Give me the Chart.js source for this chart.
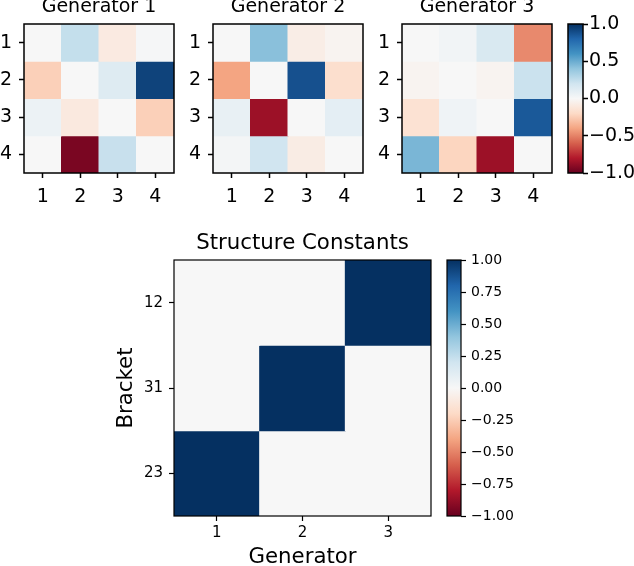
<!DOCTYPE html>
<html><head><meta charset="utf-8">
<script src="https://cdn.jsdelivr.net/npm/chart.js@4.4.1/dist/chart.umd.min.js"></script>
<style>
html,body{margin:0;padding:0;background:#fff;width:634px;height:566px;overflow:hidden;position:relative}
canvas{position:absolute}
</style></head><body>
<canvas id="g1"></canvas><canvas id="g2"></canvas><canvas id="g3"></canvas><canvas id="cb1"></canvas>
<canvas id="sc"></canvas><canvas id="cb2"></canvas>
<script>
// ---------- data ----------
const genRows = ['1','2','3','4'];
const genCols = ['1','2','3','4'];
const genTitles = ['Generator 1','Generator 2','Generator 3'];
const gen1 = [
  [ 0.00,  0.24, -0.09,  0.01],
  [-0.24,  0.00,  0.13,  0.93],
  [ 0.06, -0.10,  0.00, -0.24],
  [ 0.00, -0.95,  0.23,  0.00]
];
const gen2 = [
  [ 0.00,  0.42, -0.07, -0.03],
  [-0.40,  0.00,  0.88, -0.17],
  [ 0.08, -0.86,  0.00,  0.10],
  [ 0.02,  0.20, -0.08,  0.00]
];
const gen3 = [
  [ 0.00,  0.03,  0.16, -0.48],
  [-0.03,  0.00, -0.03,  0.22],
  [-0.15,  0.04,  0.00,  0.85],
  [ 0.46, -0.22, -0.86,  0.00]
];
const scTitle = 'Structure Constants';
const scRows = ['12','31','23'];
const scCols = ['1','2','3'];
const scValues = [
  [0, 0, 1],
  [0, 1, 0],
  [1, 0, 0]
];
const scXTitle = 'Generator';
const scYTitle = 'Bracket';
const cbTicksTop = [-1, -0.5, 0, 0.5, 1];
const cbTicksBottom = [-1, -0.75, -0.5, -0.25, 0, 0.25, 0.5, 0.75, 1];
const RDBU = ['#67001f','#b2182b','#d6604d','#f4a582','#fddbc7','#f7f7f7','#d1e5f0','#92c5de','#4393c3','#2166ac','#053061'];

// ---------- helpers ----------
const FAMILY = '"DejaVu Sans", sans-serif';
function hexRgb(h){ return [parseInt(h.slice(1,3),16), parseInt(h.slice(3,5),16), parseInt(h.slice(5,7),16)]; }
function cmap(v){
  const t = Math.max(0, Math.min(1, (v + 1) / 2)) * 10;
  const i = Math.min(9, Math.floor(t)); const f = t - i;
  const a = hexRgb(RDBU[i]), b = hexRgb(RDBU[i+1]);
  return 'rgb(' + a.map((x,k)=>Math.round(x + (b[k]-x)*f)).join(',') + ')';
}
function place(id, left, top, w, h){
  const c = document.getElementById(id);
  c.width = w; c.height = h;
  c.style.left = left + 'px'; c.style.top = top + 'px';
  c.style.width = w + 'px'; c.style.height = h + 'px';
  return c;
}
const framePlugin = {
  id: 'frame',
  afterDatasetsDraw(chart, args, opts){
    const {ctx, chartArea: a} = chart;
    ctx.save(); ctx.strokeStyle = '#000'; ctx.lineWidth = opts.width || 1;
    ctx.strokeRect(a.left, a.top, a.right - a.left, a.bottom - a.top);
    ctx.restore();
  }
};
Chart.defaults.font.family = FAMILY;
Chart.defaults.color = '#000';

function heatmap(o){
  const c = place(o.id, o.left, o.top, o.width, o.height);
  const tickFont = {family: FAMILY, size: o.tickSize};
  return new Chart(c, {
    type: 'bar',
    data: {
      labels: o.cols,
      datasets: o.rows.map((r, i) => ({
        data: o.cols.map(() => [i + 0.5, i + 1.5]),
        backgroundColor: o.values[i].map(cmap),
        borderWidth: 0, grouped: false, barPercentage: 1, categoryPercentage: 1, inflateAmount: 0.5
      }))
    },
    plugins: [framePlugin],
    options: {
      responsive: false, animation: false, events: [],
      layout: {padding: 0},
      plugins: {
        legend: {display: false}, tooltip: {enabled: false},
        title: {display: true, text: o.title, color: '#000', font: {family: FAMILY, size: o.titleSize, weight: 'normal'}, padding: {top: o.titlePadTop, bottom: o.titlePadBottom}},
        frame: {width: o.lw}
      },
      scales: {
        x: {
          type: 'category', offset: true,
          grid: {display: true, drawOnChartArea: false, offset: false, tickLength: 5, color: '#000', tickColor: '#000', tickWidth: o.lw},
          border: {display: false},
          ticks: {font: tickFont, color: '#000', padding: o.xPad, maxRotation: 0, autoSkip: false},
          title: o.xTitle ? {display: true, text: o.xTitle, color: '#000', font: {family: FAMILY, size: o.axisTitleSize}, padding: {top: 0, bottom: o.xTitlePad}} : {display: false},
          afterFit(s){ s.height = o.xHeight; }
        },
        y: {
          type: 'linear', reverse: true, min: 0.5, max: o.rows.length + 0.5,
          afterBuildTicks(s){ s.ticks = o.rows.map((r, i) => ({value: i + 1})); },
          grid: {display: true, drawOnChartArea: false, tickLength: 5, color: '#000', tickColor: '#000', tickWidth: o.lw},
          border: {display: false},
          ticks: {font: tickFont, color: '#000', padding: o.yPad, callback: (v, idx) => o.rows[idx]},
          title: o.yTitle ? {display: true, text: o.yTitle, color: '#000', font: {family: FAMILY, size: o.axisTitleSize}, padding: {top: o.yTitlePad, bottom: 0}} : {display: false},
          afterFit(s){ s.width = o.yWidth; }
        },
        yr: {
          type: 'linear', position: 'right', display: true,
          grid: {display: false}, border: {display: false}, ticks: {display: false},
          afterFit(s){ s.width = o.yWidth; }
        }
      }
    }
  });
}

function colorbar(o){
  const c = place(o.id, o.left, o.top, o.width, o.height);
  return new Chart(c, {
    type: 'bar',
    data: {
      labels: [''],
      datasets: [{
        data: [[o.ticks[0], o.ticks[o.ticks.length - 1]]],
        backgroundColor(ctx){
          const ch = ctx.chart; const ys = ch.scales.y;
          if (!ch.chartArea || !ys) return RDBU[5];
          const g = ch.ctx.createLinearGradient(0, ys.getPixelForValue(-1), 0, ys.getPixelForValue(1));
          RDBU.forEach((col, i) => g.addColorStop(i / (RDBU.length - 1), col));
          return g;
        },
        borderWidth: 0, barPercentage: 1, categoryPercentage: 1
      }]
    },
    plugins: [framePlugin],
    options: {
      responsive: false, animation: false, events: [],
      layout: {padding: {left: o.padLeft, right: 0, top: o.padTop, bottom: o.padBottom}},
      plugins: {legend: {display: false}, tooltip: {enabled: false}, title: {display: false}, frame: {width: o.lw}},
      scales: {
        x: {display: false, offset: true},
        y: {
          type: 'linear', position: 'right', min: -1, max: 1,
          afterBuildTicks(s){ s.ticks = o.ticks.map(v => ({value: v})); },
          grid: {display: true, drawOnChartArea: false, tickLength: 5, color: '#000', tickColor: '#000', tickWidth: o.lw},
          border: {display: false},
          ticks: {font: {family: FAMILY, size: o.tickSize}, color: '#000', padding: o.tickPad,
            callback: (v) => v.toFixed(o.decimals).replace('-', '\u2212')},
          afterFit(s){ s.width = o.yWidth; }
        }
      }
    }
  });
}

// ---------- top row ----------
const gens = [gen1, gen2, gen3];
const genLeft = [24, 213, 402];
const topW = [24, 30, 30];
gens.forEach((vals, k) => {
  heatmap({
    id: 'g' + (k + 1), left: genLeft[k] - topW[k], top: -4, width: 150 + 2 * topW[k], height: 220,
    rows: genRows, cols: genCols, values: vals, title: genTitles[k],
    titleSize: 19, tickSize: 19, titlePadTop: 0, titlePadBottom: 5.2,
    yWidth: topW[k], xHeight: 43, xPad: 7.6, yPad: 7, lw: 1.5
  });
});
colorbar({id: 'cb1', left: 560, top: -4, width: 74, height: 220, padLeft: 8, padTop: 28, padBottom: 43,
  yWidth: 51, ticks: cbTicksTop, decimals: 1, tickSize: 19, tickPad: 1, lw: 1.5});

// ---------- bottom ----------
heatmap({
  id: 'sc', left: 110, top: 226, width: 257 + 2 * 64, height: 344,
  rows: scRows, cols: scCols, values: scValues, title: scTitle,
  titleSize: 21.3, tickSize: 15, titlePadTop: 4.7, titlePadBottom: 3.74, axisTitleSize: 21.3,
  xTitle: scXTitle, yTitle: scYTitle, xTitlePad: 0, yTitlePad: 3.9,
  yWidth: 64, xHeight: 54, xPad: 3.5, yPad: 6, lw: 1.2
});
colorbar({id: 'cb2', left: 440, top: 226, width: 194, height: 344, padLeft: 7, padTop: 34, padBottom: 54,
  yWidth: 173, ticks: cbTicksBottom, decimals: 2, tickSize: 14, tickPad: 5, lw: 1.2});
</script>
</body></html>
